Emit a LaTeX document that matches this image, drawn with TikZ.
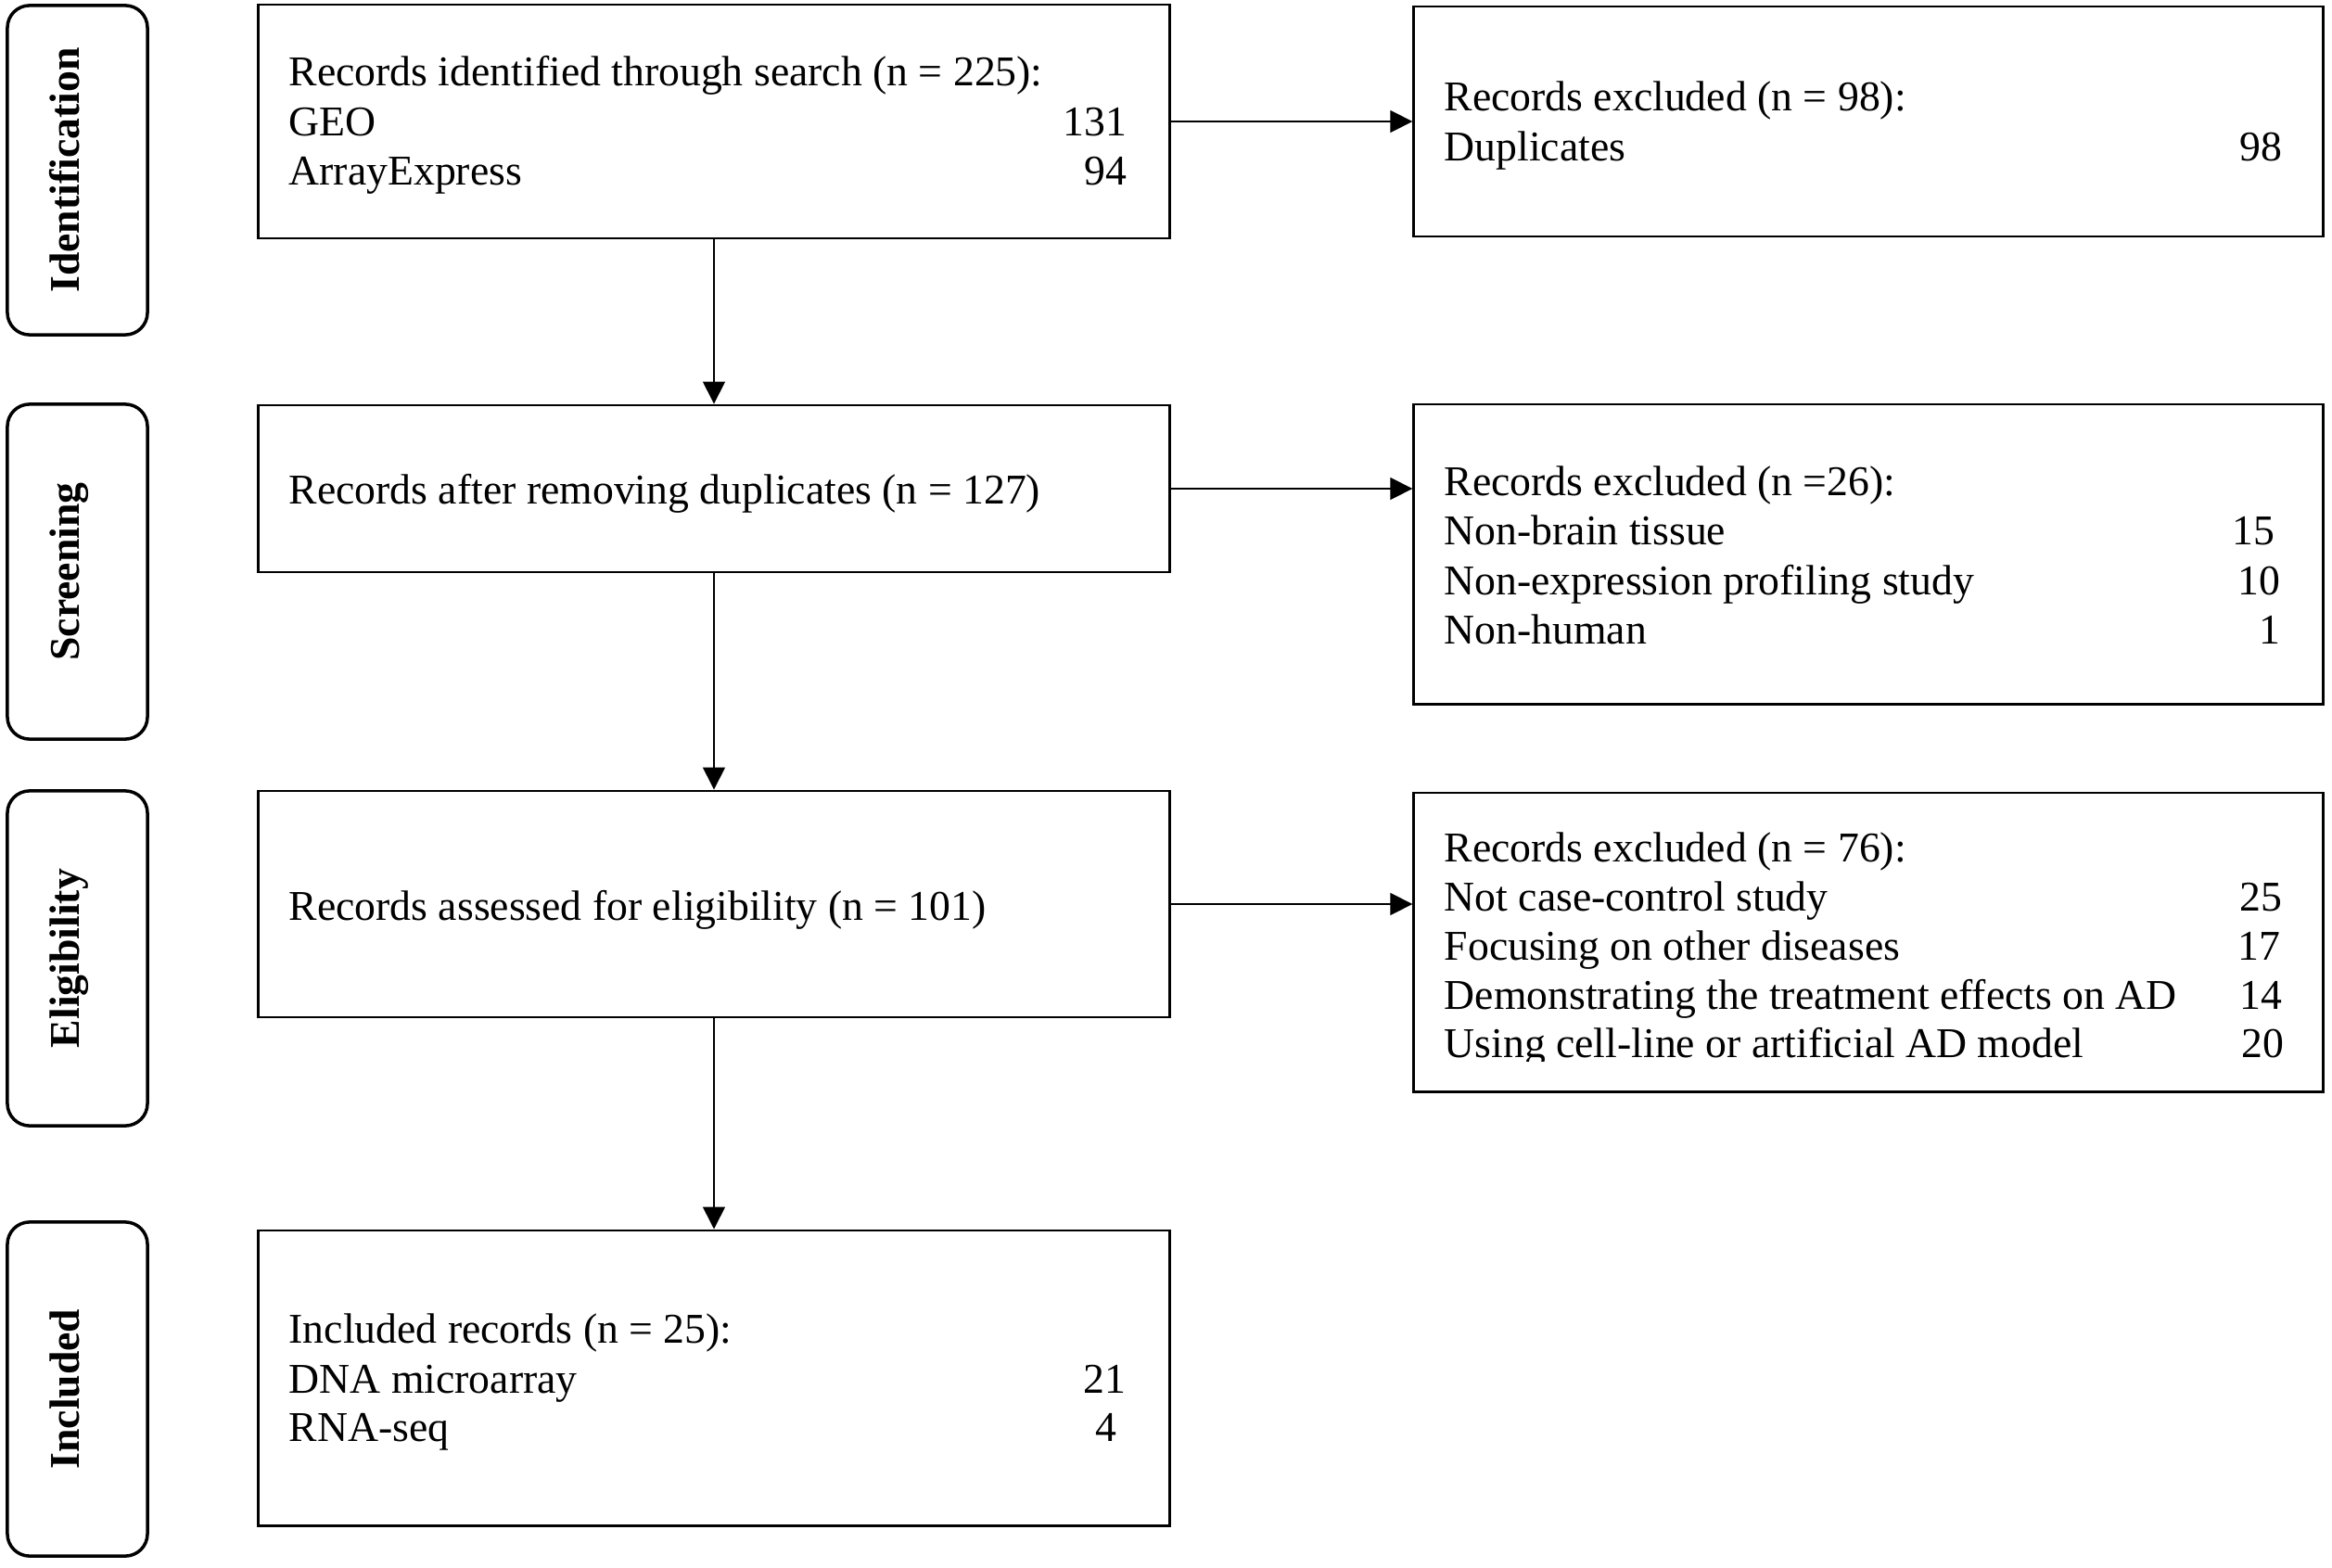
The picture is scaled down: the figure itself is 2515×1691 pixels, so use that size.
\documentclass[tikz,border=0pt]{standalone}
\usepackage{fontspec}
\setmainfont{Liberation Serif}
\usetikzlibrary{arrows.meta}
\tikzset{
  box/.style={draw, line width=0.8pt, inner sep=0pt, rectangle},
  stagebox/.style={draw, line width=1pt, inner sep=0pt, rectangle, rounded corners=0.24cm,
     minimum width=1.51cm, minimum height=3.6cm},
  stagelabel/.style={font=\fontsize{13}{15.1}\selectfont\bfseries, inner sep=0pt, rotate=90, anchor=base},
  txt/.style={font=\fontsize{13}{15.1}\selectfont, inner sep=0pt},
  arr/.style={line width=0.45pt, -{Triangle[length=0.24cm, width=0.24cm]}}
}
\begin{document}
\begin{tikzpicture}[x=0.01cm, y=-0.01cm]
\useasboundingbox[fill=white] (0,0) rectangle (2515,1691);

% stage boxes
\node (s1) [stagebox, minimum height=3.55cm] at (83.5,183.5) {};
\node (s2) [stagebox, minimum height=3.61cm] at (83.5,616.5) {};
\node (s3) [stagebox, minimum height=3.61cm] at (83.5,1033.5) {};
\node (s4) [stagebox, minimum height=3.60cm] at (83.5,1498) {};
\node (l1) [stagelabel] at (85,183.5) {Identification};
\node (l2) [stagelabel] at (85,616.5) {Screening};
\node (l3) [stagelabel] at (85,1033.5) {Eligibility};
\node (l4) [stagelabel] at (85,1498) {Included};

% left boxes
\node (b1) [box, minimum width=9.82cm, minimum height=2.52cm] at (770,131) {};
\node (b2) [box, minimum width=9.82cm, minimum height=1.80cm] at (770,527) {};
\node (b3) [box, minimum width=9.82cm, minimum height=2.44cm] at (770,975) {};
\node (b4) [box, minimum width=9.82cm, minimum height=3.18cm] at (770,1486) {};

% right boxes
\node (r1) [box, minimum width=9.80cm, minimum height=2.48cm] at (2015,131) {};
\node (r2) [box, minimum width=9.80cm, minimum height=3.23cm] at (2015,597.5) {};
\node (r3) [box, minimum width=9.80cm, minimum height=3.22cm] at (2015,1016) {};

% box 1 text
\node (b1a) [txt, anchor=base west] at (311,93) {Records identified through search (n = 225):};
\node (b1b) [txt, anchor=base west] at (311,147) {GEO};
\node (b1c) [txt, anchor=base west] at (311,200) {ArrayExpress};
\node (b1bn) [txt, anchor=base east] at (1216,147) {131};
\node (b1cn) [txt, anchor=base east] at (1216,200) {94};

% box 2 text
\node (b2a) [txt, anchor=base west] at (311,543) {Records after removing duplicates (n = 127)};

% box 3 text
\node (b3a) [txt, anchor=base west] at (311,992) {Records assessed for eligibility (n = 101)};

% box 4 text
\node (b4a) [txt, anchor=base west] at (311,1448) {Included records (n = 25):};
\node (b4b) [txt, anchor=base west] at (311,1502) {DNA microarray};
\node (b4c) [txt, anchor=base west] at (311,1554) {RNA-seq};
\node (b4bn) [txt, anchor=base east] at (1215,1502) {21};
\node (b4cn) [txt, anchor=base east] at (1205,1554) {4};

% right box 1 text
\node (r1a) [txt, anchor=base west] at (1557,120) {Records excluded (n = 98):};
\node (r1b) [txt, anchor=base west] at (1557,173) {Duplicates};
\node (r1bn) [txt, anchor=base east] at (2462,173) {98};

% right box 2 text
\node (r2a) [txt, anchor=base west] at (1557,534) {Records excluded (n =26):};
\node (r2b) [txt, anchor=base west] at (1557,587) {Non-brain tissue};
\node (r2c) [txt, anchor=base west] at (1557,641) {Non-expression profiling study};
\node (r2d) [txt, anchor=base west] at (1557,694) {Non-human};
\node (r2bn) [txt, anchor=base east] at (2454,587) {15};
\node (r2cn) [txt, anchor=base east] at (2460,641) {10};
\node (r2dn) [txt, anchor=base east] at (2460,694) {1};

% right box 3 text
\node (r3a) [txt, anchor=base west] at (1557,929) {Records excluded (n = 76):};
\node (r3b) [txt, anchor=base west] at (1557,982) {Not case-control study};
\node (r3c) [txt, anchor=base west] at (1557,1035) {Focusing on other diseases};
\node (r3d) [txt, anchor=base west] at (1557,1088) {Demonstrating the treatment effects on AD};
\begin{scope}
\clip (1530,1100) rectangle (2500,1144);
\node (r3e) [txt, anchor=base west] at (1557,1140) {Using cell-line or artificial AD model};
\end{scope}
\node (r3bn) [txt, anchor=base east] at (2462,982) {25};
\node (r3cn) [txt, anchor=base east] at (2460,1035) {17};
\node (r3dn) [txt, anchor=base east] at (2462,1088) {14};
\node (r3en) [txt, anchor=base east] at (2464,1140) {20};

% connectors
\draw[arr] (b1.south) -- (b2.north);
\draw[arr] (b2.south) -- (b3.north);
\draw[arr] (b3.south) -- (b4.north);
\draw[arr] (b1.east) -- (r1.west);
\draw[arr] (b2.east) -- (b2.east -| r2.west);
\draw[arr] (b3.east) -- (b3.east -| r3.west);
\end{tikzpicture}
\end{document}
